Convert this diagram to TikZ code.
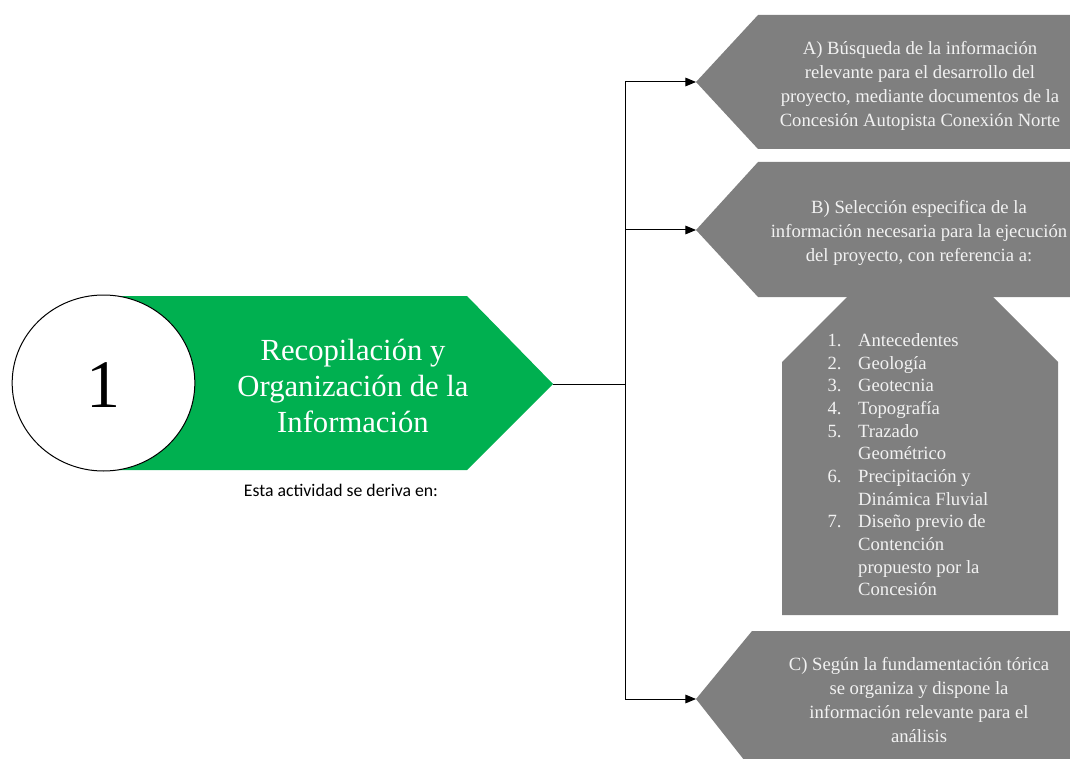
\documentclass[tikz,border=0pt]{standalone}
\usepackage{fontspec}
\setmainfont{Liberation Serif}
\setsansfont{Carlito}
\usetikzlibrary{arrows.meta}
\usetikzlibrary{shapes.geometric}
\definecolor{actgreen}{HTML}{00B050}
\definecolor{boxgray}{HTML}{7F7F7F}
\definecolor{boxtext}{HTML}{F2F2F2}

\begin{document}
\begin{tikzpicture}[x=0.75pt,y=-0.75pt,>={Triangle[length=8pt,width=6.5pt]},
        line width=0.75pt,
        gray box/.style={fill=boxgray},
        box text/.style={text=boxtext,align=center,inner sep=0pt,font=\fontsize{14}{18}\selectfont},
        main text/.style={text=white,align=center,inner sep=0pt,font=\fontsize{23}{27}\selectfont}]

    \useasboundingbox (0,0) rectangle (1070,759);
    \clip (0,0) rectangle (1070,759);

    \fill[actgreen] (103,296) -- (467,296) -- (553,384) -- (467,470) -- (103,470) -- cycle;
    \node[ellipse,draw=black,fill=white,inner sep=0pt,
          minimum width=137pt,minimum height=132pt] (num) at (103.5,383) {};
    \node[font=\fontsize{51}{51}\selectfont] (one) at (103.5,385) {1};
    \node[main text] (title) at (353,386) {Recopilación y\\Organización de la\\Información};
    \node[font=\sffamily\fontsize{13.3}{16}\selectfont,inner sep=0pt] (note) at (341,490) {Esta actividad se deriva en:};

    \fill[gray box] (696,82) -- (758,15) -- (1090,15) -- (1090,149) -- (758,149) -- cycle;
    \fill[gray box] (696,230) -- (758,162) -- (1090,162) -- (1090,297) -- (758,297) -- cycle;
    \fill[gray box] (848,296) -- (782,362) -- (782,615) -- (1058,615) -- (1058,362) -- (992,296) -- cycle;
    \fill[gray box] (696,699) -- (752,631) -- (1090,631) -- (1090,770) -- (752,770) -- cycle;

    \node[box text] (a) at (920,86) {A) Búsqueda de la información\\relevante para el desarrollo del\\proyecto, mediante documentos de la\\Concesión Autopista Conexión Norte};
    \node[box text] (b) at (919,233) {B) Selección especifica de la\\información necesaria para la ejecución\\del proyecto, con referencia a:};
    \node[box text,anchor=north west,align=left,font=\fontsize{14}{17}\selectfont] (list) at (827,330) {%
        \begin{tabular}{@{}l@{\hspace{12.5pt}}l@{}}
        1. & Antecedentes\\
        2. & Geología\\
        3. & Geotecnia\\
        4. & Topografía\\
        5. & Trazado\\
           & Geométrico\\
        6. & Precipitación y\\
           & Dinámica Fluvial\\
        7. & Diseño previo de\\
           & Contención\\
           & propuesto por la\\
           & Concesión
        \end{tabular}};
    \node[box text] (c) at (919,700) {C) Según la fundamentación tórica\\se organiza y dispone la\\información relevante para el\\análisis};

    \coordinate (gtip) at (553,384);
    \coordinate (split) at (625,384);
    \coordinate (atip) at (696,82);
    \coordinate (btip) at (696,230);
    \coordinate (ctip) at (696,699);

    \draw (gtip) -- (split);
    \draw[->] (split) |- (atip);
    \draw[->] (split) |- (btip);
    \draw[->] (split) |- (ctip);
\end{tikzpicture}
\end{document}
